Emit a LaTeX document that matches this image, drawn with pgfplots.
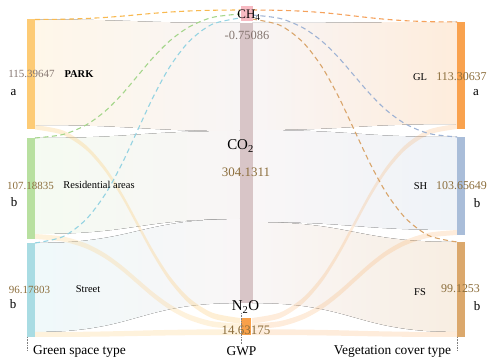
\documentclass[border=0pt]{standalone}
\usepackage{pgfplots}
\pgfplotsset{compat=1.18}
\usepackage{pgfplotstable}
\usepgfplotslibrary{fillbetween}
\usepackage{fontspec}
\setmainfont{Liberation Serif}

\definecolor{cPARK}{HTML}{FDCB75}
\definecolor{cRES}{HTML}{B8E0A0}
\definecolor{cST}{HTML}{A9DCE3}
\definecolor{cCH4}{HTML}{F7BAC2}
\definecolor{cCO2}{HTML}{D8C5C7}
\definecolor{cN2O}{HTML}{F8A04A}
\definecolor{cGL}{HTML}{F9A24E}
\definecolor{cSH}{HTML}{A9BDD9}
\definecolor{cFS}{HTML}{DBA86C}
\definecolor{numc}{HTML}{8C6E3C}
\definecolor{numg}{HTML}{857670}
\definecolor{dOr}{HTML}{F8B950}
\definecolor{dGr}{HTML}{A5D68C}
\definecolor{dBl}{HTML}{94D3E2}
\definecolor{dOr2}{HTML}{F5A25C}
\definecolor{dSH}{HTML}{9FB3D4}
\definecolor{dFS}{HTML}{D9A56B}

% S-shaped link profile (fraction of x, fraction of y)
\pgfplotstableread{
s f
0 0
0.136 0.028
0.248 0.104
0.342 0.216
0.424 0.352
0.5 0.5
0.576 0.648
0.658 0.784
0.752 0.896
0.864 0.972
1 1
}\shape

% ribbon: name, x1, ytop1, ybot1, x2, ytop2, ybot2, style
\newcommand{\ribbon}[8]{%
\addplot[draw=none, smooth, name path=#1a, forget plot] table[x expr={#2+(#5-#2)*\thisrow{s}}, y expr={#3+(#6-#3)*\thisrow{f}}]{\shape};
\addplot[draw=none, smooth, name path=#1b, forget plot] table[x expr={#2+(#5-#2)*\thisrow{s}}, y expr={#4+(#7-#4)*\thisrow{f}}]{\shape};
\addplot[draw=none, #8] fill between[of=#1a and #1b];
}
% dashed link: x1,y1,x2,y2,color
\newcommand{\dlink}[5]{%
\addplot[#5, line width=1.1bp, dash pattern=on 5bp off 3.5bp, smooth] table[x expr={#1+(#3-#1)*\thisrow{s}}, y expr={#2+(#4-#2)*\thisrow{f}}]{\shape};
}
% node bar: x1,x2,y1,y2,color
\newcommand{\nbar}[5]{%
\addplot[fill=#5, draw=none] coordinates {(#1,#3) (#2,#3) (#2,#4) (#1,#4)};
}

\begin{document}
\begin{tikzpicture}
\begin{axis}[width=491bp, height=362bp, scale only axis,
  xmin=0, xmax=491, ymin=0, ymax=362, y dir=reverse,
  hide axis, clip=false]

% big ribbons left
\ribbon{La}{35}{19.5}{125}{240}{23}{131}{left color=cPARK!16!white, right color=cCO2!18!white}
\ribbon{Lb}{35}{138}{234}{240}{131}{219}{left color=cRES!14!white, right color=cCO2!17!white}
\ribbon{Lc}{35}{243}{332}{240}{219}{303}{left color=cST!18!white, right color=cCO2!15!white}
% big ribbons right
\ribbon{Ra}{252}{23}{130}{457}{22}{124}{left color=cCO2!17!white, right color=cGL!20!white}
\ribbon{Rb}{252}{130}{222}{457}{137}{230}{left color=cCO2!15!white, right color=cSH!19!white}
\ribbon{Rc}{252}{222}{303}{457}{242}{332}{left color=cCO2!15!white, right color=cFS!20!white}
% thin N2O ribbons
\ribbon{Ld}{35}{125}{129.5}{240}{318}{323.7}{fill=cPARK, fill opacity=0.3}
\ribbon{Le}{35}{234}{239}{240}{323.7}{329.3}{fill=cPARK, fill opacity=0.25}
\ribbon{Lf}{35}{332}{337}{240}{329.3}{335}{fill=cPARK, fill opacity=0.25}
\ribbon{Rd}{252}{318}{323.7}{457}{124}{129}{fill=cN2O, fill opacity=0.2}
\ribbon{Re}{252}{323.7}{329.3}{457}{230}{235}{fill=cN2O, fill opacity=0.2}
\ribbon{Rf}{252}{329.3}{335}{457}{332}{337}{fill=cN2O, fill opacity=0.2}

% CH4 dashed links
\dlink{35}{19.5}{240}{10}{dOr}
\dlink{35}{138}{240}{14}{dGr}
\dlink{35}{243}{240}{18}{dBl}
\dlink{252}{10}{457}{22}{dOr2}
\dlink{252}{15}{457}{137}{dSH}
\dlink{252}{19}{457}{242}{dFS}

% node bars
\nbar{27}{35}{19.5}{129.5}{cPARK}
\nbar{27}{35}{138}{239}{cRES}
\nbar{27}{35}{243}{337}{cST}
\nbar{241}{253}{6}{21}{cCH4}
\nbar{240}{253}{23}{303}{cCO2}
\nbar{241}{251}{318}{335}{cN2O}
\nbar{457}{465}{22}{129}{cGL}
\nbar{457}{465}{137}{235}{cSH}
\nbar{457}{465}{242}{337}{cFS}

% dotted axis ticks
\addplot[densely dotted, gray, line width=0.6bp] coordinates {(27,337) (27,350)};
\addplot[densely dotted, gray, line width=0.6bp] coordinates {(241.7,313) (241.7,344)};
\addplot[densely dotted, gray, line width=0.6bp] coordinates {(457.3,337) (457.3,350)};

% labels left
\node[font=\fontsize{11}{13}\selectfont, text=numg] at (axis cs:31.5,74) {115.39647};
\node[font=\fontsize{10.5}{12}\selectfont\bfseries] at (axis cs:79,74) {PARK};
\node[font=\fontsize{13}{14}\selectfont] at (axis cs:13.5,93) {a};
\node[font=\fontsize{11}{13}\selectfont, text=numc] at (axis cs:30.5,186) {107.18835};
\node[font=\fontsize{10.5}{12}\selectfont] at (axis cs:99,185) {Residential areas};
\node[font=\fontsize{13}{14}\selectfont] at (axis cs:14,202) {b};
\node[font=\fontsize{11}{13}\selectfont, text=numc] at (axis cs:29.5,290) {96.17803};
\node[font=\fontsize{10.5}{12}\selectfont] at (axis cs:88,289) {Street};
\node[font=\fontsize{13}{14}\selectfont] at (axis cs:13,304) {b};

% labels middle
\node[font=\fontsize{13}{14}\selectfont] at (axis cs:249,15) {CH\textsubscript{4}};
\node[font=\fontsize{12.5}{14}\selectfont, text=numg] at (axis cs:247,35) {-0.75086};
\node[font=\fontsize{15}{16}\selectfont] at (axis cs:240.5,146) {CO\textsubscript{2}};
\node[font=\fontsize{13}{14}\selectfont, text=numc] at (axis cs:246,172) {304.1311};
\node[font=\fontsize{15}{16}\selectfont] at (axis cs:245.5,307) {N\textsubscript{2}O};
\node[font=\fontsize{13}{14}\selectfont, text=numc] at (axis cs:246,330) {14.63175};

% labels right
\node[font=\fontsize{10.5}{12}\selectfont] at (axis cs:420,77) {GL};
\node[font=\fontsize{12}{13}\selectfont, text=numc] at (axis cs:461.5,77) {113.30637};
\node[font=\fontsize{13}{14}\selectfont] at (axis cs:476,93) {a};
\node[font=\fontsize{10.5}{12}\selectfont] at (axis cs:420.5,186) {SH};
\node[font=\fontsize{12}{13}\selectfont, text=numc] at (axis cs:461.5,186) {103.65649};
\node[font=\fontsize{13}{14}\selectfont] at (axis cs:477,203) {b};
\node[font=\fontsize{10.5}{12}\selectfont] at (axis cs:420,292) {FS};
\node[font=\fontsize{12}{13}\selectfont, text=numc] at (axis cs:460.5,289) {99.1253};
\node[font=\fontsize{13}{14}\selectfont] at (axis cs:477,306) {b};

% axis titles
\node[font=\fontsize{13.5}{15}\selectfont] at (axis cs:79.5,351) {Green space type};
\node[font=\fontsize{13.5}{15}\selectfont] at (axis cs:241.5,351) {GWP};
\node[font=\fontsize{13.5}{15}\selectfont] at (axis cs:392.5,351) {Vegetation cover type};
\end{axis}
\pgfresetboundingbox
\useasboundingbox (current axis.south west) rectangle (current axis.north east);
\end{tikzpicture}
\end{document}
